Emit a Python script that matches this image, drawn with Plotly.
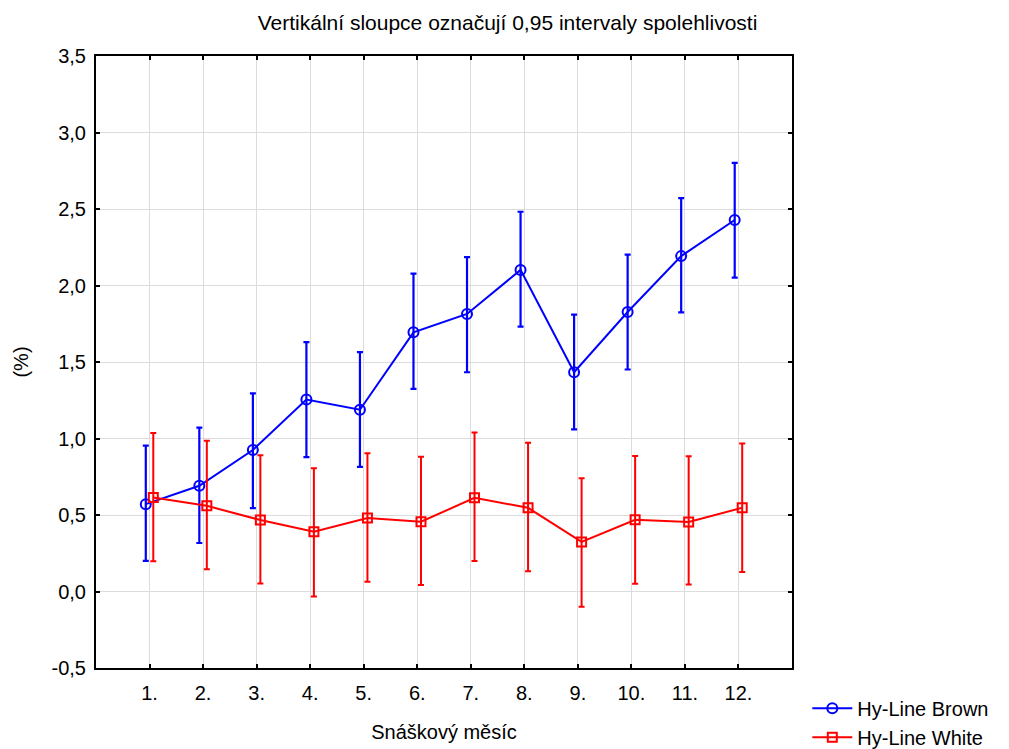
import plotly.graph_objects as go

months = [1, 2, 3, 4, 5, 6, 7, 8, 9, 10, 11, 12]
month_labels = ["1.", "2.", "3.", "4.", "5.", "6.", "7.", "8.", "9.", "10.", "11.", "12."]

brown_mean = [0.571, 0.691, 0.925, 1.255, 1.188, 1.694, 1.814, 2.102, 1.433, 1.827, 2.192, 2.428]
brown_upper = [0.954, 1.071, 1.295, 1.630, 1.565, 2.078, 2.185, 2.482, 1.809, 2.202, 2.571, 2.801]
brown_lower = [0.200, 0.317, 0.545, 0.878, 0.814, 1.325, 1.433, 1.731, 1.060, 1.451, 1.824, 2.052]

white_mean = [0.615, 0.560, 0.467, 0.391, 0.480, 0.456, 0.612, 0.547, 0.324, 0.469, 0.454, 0.547]
white_upper = [1.036, 0.986, 0.891, 0.806, 0.904, 0.880, 1.040, 0.973, 0.741, 0.886, 0.884, 0.967]
white_lower = [0.198, 0.146, 0.052, -0.033, 0.063, 0.042, 0.200, 0.133, -0.100, 0.050, 0.046, 0.128]

y_ticks = [-0.5, 0.0, 0.5, 1.0, 1.5, 2.0, 2.5, 3.0, 3.5]
y_tick_labels = ["-0,5", "0,0", "0,5", "1,0", "1,5", "2,0", "2,5", "3,0", "3,5"]

series_names = ["Hy-Line Brown", "Hy-Line White"]

FONT = "Liberation Sans, Arial, sans-serif"
dodge = 0.07

fig = go.Figure()

fig.add_trace(go.Scatter(
    x=[m - dodge for m in months], y=brown_mean, name=series_names[0],
    mode="lines+markers",
    line=dict(color="#0000ff", width=2),
    marker=dict(symbol="circle-open", size=10, color="#0000ff", line=dict(width=2, color="#0000ff")),
    error_y=dict(type="data", symmetric=False,
                 array=[u - m for u, m in zip(brown_upper, brown_mean)],
                 arrayminus=[m - l for m, l in zip(brown_mean, brown_lower)],
                 color="#0000ff", thickness=2.2, width=3),
))

fig.add_trace(go.Scatter(
    x=[m + dodge for m in months], y=white_mean, name=series_names[1],
    mode="lines+markers",
    line=dict(color="#ff0000", width=2),
    marker=dict(symbol="square-open", size=9, color="#ff0000", line=dict(width=2, color="#ff0000")),
    error_y=dict(type="data", symmetric=False,
                 array=[u - m for u, m in zip(white_upper, white_mean)],
                 arrayminus=[m - l for m, l in zip(white_mean, white_lower)],
                 color="#ff0000", thickness=2, width=3),
))

fig.update_layout(
    width=1009, height=749,
    margin=dict(l=96, r=217, t=56, b=81, autoexpand=False),
    paper_bgcolor="white", plot_bgcolor="white",
    font=dict(family=FONT, size=20, color="black"),
    title=dict(text="Vertikální sloupce označují 0,95 intervaly spolehlivosti",
               x=0.503, xref="container", xanchor="center",
               y=0.97, yref="container", yanchor="middle",
               font=dict(family=FONT, size=21, color="black")),
    showlegend=True,
    legend=dict(x=1.022, xanchor="left", y=-0.034, yanchor="top",
                font=dict(family=FONT, size=20, color="black"),
                bgcolor="rgba(0,0,0,0)", tracegroupgap=0, itemwidth=40),
)

fig.update_xaxes(
    range=[0, 13], tickmode="array", tickvals=months, ticktext=month_labels,
    showgrid=True, gridcolor="#dcdcdc", gridwidth=1,
    showline=True, linecolor="black", linewidth=2, mirror="ticks",
    ticks="inside", ticklen=4, tickwidth=2, tickcolor="black",
    tickfont=dict(family=FONT, size=20), zeroline=False, ticklabelstandoff=6,
    title=dict(text="Snáškový měsíc", font=dict(family=FONT, size=20), standoff=22),
)
fig.update_yaxes(
    range=[-0.5, 3.5], tickmode="array", tickvals=y_ticks, ticktext=y_tick_labels,
    showgrid=True, gridcolor="#dcdcdc", gridwidth=1,
    showline=True, linecolor="black", linewidth=2, mirror="ticks",
    ticks="inside", ticklen=4, tickwidth=2, tickcolor="black",
    tickfont=dict(family=FONT, size=20), zeroline=False, ticklabelstandoff=4,
    title=dict(text="(%)", font=dict(family=FONT, size=20), standoff=18),
)

fig.write_html("out.html")
